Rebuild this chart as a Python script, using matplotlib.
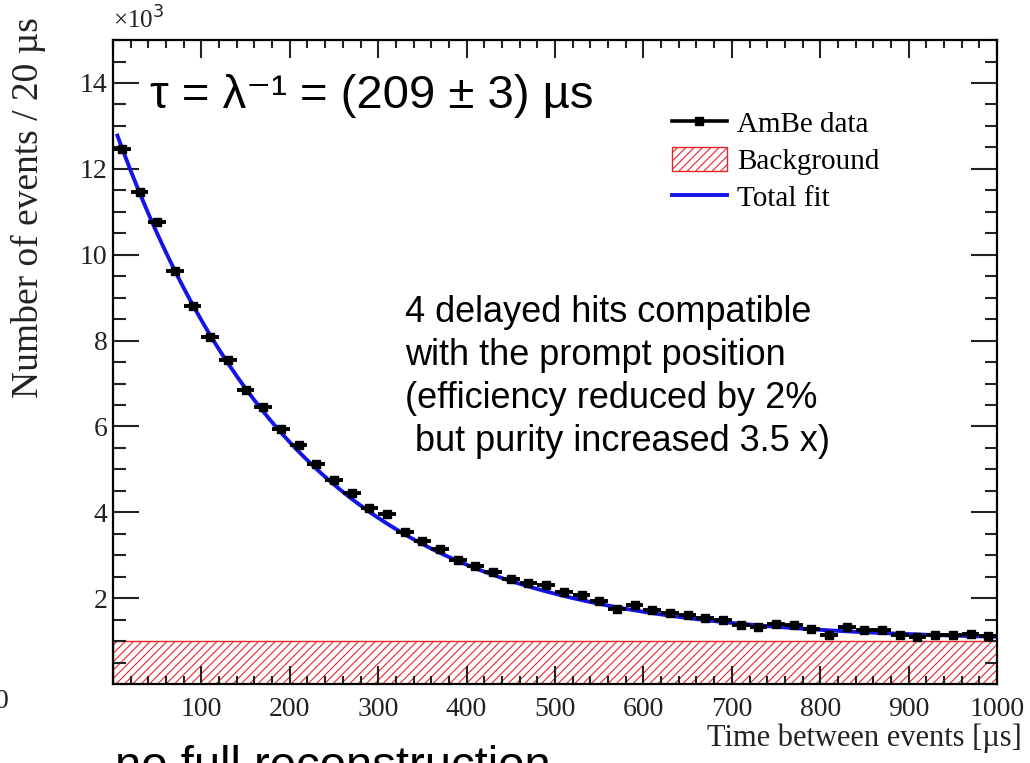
import numpy as np
import matplotlib
matplotlib.use('Agg')
import matplotlib.pyplot as plt
from matplotlib.lines import Line2D
from matplotlib.patches import Patch
from matplotlib.ticker import MultipleLocator

# bin centres (us) and counts per 20 us bin (x10^3)
t_bins = [10, 30, 50, 70, 90, 110, 130, 150, 170, 190,
          210, 230, 250, 270, 290, 310, 330, 350, 370, 390,
          410, 430, 450, 470, 490, 510, 530, 550, 570, 590,
          610, 630, 650, 670, 690, 710, 730, 750, 770, 790,
          810, 830, 850, 870, 890, 910, 930, 950, 970, 990]
counts = [12.46, 11.45, 10.77, 9.63, 8.81, 8.08, 7.55, 6.85, 6.45, 5.95,
          5.56, 5.13, 4.76, 4.45, 4.10, 3.96, 3.54, 3.33, 3.15, 2.89,
          2.75, 2.62, 2.44, 2.35, 2.30, 2.14, 2.07, 1.93, 1.74, 1.84,
          1.72, 1.65, 1.60, 1.53, 1.49, 1.37, 1.33, 1.40, 1.37, 1.28,
          1.14, 1.33, 1.26, 1.26, 1.14, 1.09, 1.14, 1.14, 1.16, 1.11]
bin_half = 10

# fit parameters: A*exp(-t/tau) + bkg
tau = 209.0
amp = 12.06
bkg = 1.0

plt.rcParams['font.family'] = ['Liberation Serif', 'DejaVu Serif']
plt.rcParams['hatch.linewidth'] = 0.8

fig = plt.figure(figsize=(10.30, 7.63), dpi=100)
ax = fig.add_axes([0.1097, 0.1035, 0.8583, 0.8440])

ax.axhspan(0, bkg, facecolor='white', edgecolor='#e8262a', hatch='////', lw=1.0, zorder=1)

tt = np.linspace(5, 1000, 400)
ax.plot(tt, amp*np.exp(-tt/tau) + bkg, color='#1414e6', lw=2.8, zorder=3)

ax.errorbar(t_bins, counts, xerr=bin_half, fmt='s', color='black', ms=6,
            elinewidth=2.8, capsize=0, zorder=4)

ax.set_xlim(0, 1000)
ax.set_ylim(0, 15)
ax.xaxis.set_minor_locator(MultipleLocator(20))
ax.yaxis.set_minor_locator(MultipleLocator(0.5))
ax.set_xticks(np.arange(100, 1001, 100))
ax.set_yticks(np.arange(2, 15, 2))
ax.tick_params(axis='both', which='both', direction='in', top=True, right=True,
               width=1.5, labelsize=20, colors='#222222')
ax.tick_params(axis='x', which='major', length=13, pad=9)
ax.tick_params(axis='x', which='minor', length=6)
ax.tick_params(axis='y', which='major', length=19, pad=4)
ax.tick_params(axis='y', which='minor', length=9)
for s in ax.spines.values():
    s.set_linewidth(1.6)

fig.text(28/1030, 1 - 208/763, 'Number of events / 20 µs', rotation=90,
         ha='center', va='center', fontsize=27, color='#222222')
fig.text(1022/1030, 1 - 738/763, 'Time between events [µs]', ha='right',
         va='center', fontsize=22, color='#222222')
fig.text(113/1030, 1 - 20/763, '×10$^{3}$', ha='left', va='center',
         fontsize=18, color='#222222')

handles = [Line2D([], [], color='black', marker='s', ms=6, lw=2.6),
           Patch(facecolor='white', edgecolor='#e8262a', hatch='////', lw=1.0),
           Line2D([], [], color='#1414e6', lw=2.8)]
ax.legend(handles, ['AmBe data', 'Background', 'Total fit'], loc='upper left',
          bbox_to_anchor=(0.632, 0.892), frameon=False, fontsize=21,
          borderpad=0, borderaxespad=0, handlelength=1.9, handleheight=0.9,
          handletextpad=0.35, labelspacing=0.3)

sans = ['Liberation Sans', 'DejaVu Sans']
fig.text(150/1030, 1 - 108/763, 'τ = λ⁻¹ = (209 ± 3) µs', ha='left',
         va='baseline', fontsize=34, family=sans)
fig.text(405/1030, 1 - 295/763,
         '4 delayed hits compatible\nwith the prompt position\n'
         '(efficiency reduced by 2%\n but purity increased 3.5 x)',
         ha='left', va='top', fontsize=26, family=sans, linespacing=1.3)
fig.text(115/1030, 1 - 745/763, 'no full reconstruction', ha='left',
         va='top', fontsize=34, family=sans)
fig.text(2/1030, 1 - 702/763, '0', ha='center', va='center', fontsize=20,
         color='#222222')

fig.savefig('out.png', dpi=100)
